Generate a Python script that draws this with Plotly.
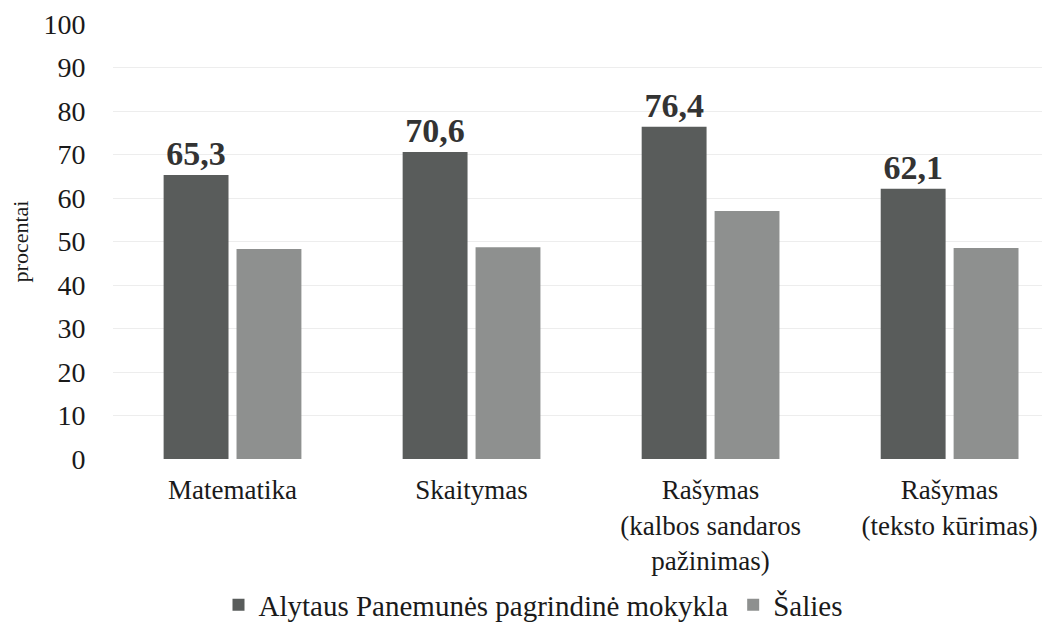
import plotly.graph_objects as go

categories = ["Matematika", "Skaitymas", "Rašymas<br>(kalbos sandaros<br>pažinimas)", "Rašymas<br>(teksto kūrimas)"]
school_name = "Alytaus Panemunės pagrindinė mokykla"
country_name = "Šalies"
school_values = [65.3, 70.6, 76.4, 62.1]
country_values = [48.3, 48.7, 57.0, 48.5]
y_ticks = [0, 10, 20, 30, 40, 50, 60, 70, 80, 90, 100]

font_family = "Liberation Serif, Times New Roman, serif"

fig = go.Figure()
fig.add_trace(go.Bar(
    x=categories, y=school_values, name=school_name,
    marker=dict(color="#595c5b", line=dict(width=0)),
    text=[f"{v:.1f}".replace(".", ",") for v in school_values],
    textposition="outside", cliponaxis=False,
    textfont=dict(family=font_family, size=34, color="#333333", weight="bold"),
))
fig.add_trace(go.Bar(
    x=categories, y=country_values, name=country_name,
    marker=dict(color="#8e908f", line=dict(width=0)),
))

fig.update_layout(
    width=1050, height=627,
    paper_bgcolor="white", plot_bgcolor="white",
    margin=dict(l=105, r=8, t=16, b=176),
    barmode="group", bargap=0.39, bargroupgap=0.11,
    font=dict(family=font_family, size=28, color="#1a1a1a"),
    legend=dict(
        orientation="h", xref="container", yref="container",
        x=0.5, xanchor="center", y=0.048, yanchor="middle",
        bgcolor="rgba(0,0,0,0)",
        font=dict(family=font_family, size=29, color="#1a1a1a"),
        itemwidth=30, traceorder="normal",
    ),
    showlegend=True,
)
fig.update_xaxes(
    range=[-0.5, 3.42], showgrid=False, zeroline=False, showline=False, automargin=False,
    ticks="outside", ticklen=7, tickcolor="rgba(0,0,0,0)",
    tickfont=dict(family=font_family, size=27, color="#1a1a1a"),
)
fig.update_yaxes(
    range=[0, 100], tickvals=y_ticks, showgrid=True, gridcolor="#ededed", gridwidth=1,
    zeroline=False, showline=False, automargin=False,
    ticks="outside", ticklen=21, tickcolor="rgba(0,0,0,0)",
    tickfont=dict(family=font_family, size=28, color="#1a1a1a"),
    title=dict(text="procentai", font=dict(family=font_family, size=22, color="#1a1a1a"), standoff=12),
)

fig.write_html("out.html")
